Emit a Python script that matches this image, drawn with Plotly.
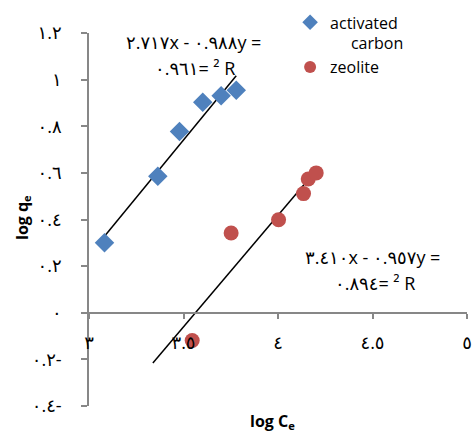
import plotly.graph_objects as go

# ---- data ----
ac_x = [3.082, 3.364, 3.479, 3.602, 3.699, 3.779]
ac_y = [0.300, 0.585, 0.778, 0.903, 0.931, 0.954]
zeo_x = [3.546, 3.752, 4.003, 4.135, 4.160, 4.202]
zeo_y = [-0.119, 0.342, 0.399, 0.511, 0.574, 0.600]

# trendline coefficients as printed on the chart, and the span drawn
ac_slope, ac_icpt = 0.988, -2.717
zeo_slope, zeo_icpt = 0.957, -3.410
ac_trend_x = [3.082, 3.779]
zeo_trend_x = [3.338, 4.202]

x_tickvals = [3, 3.5, 4, 4.5, 5]
x_ticktext = ["٣", "٣.٥", "٤", "٤.٥", "٥"]
y_tickvals = [-0.4, -0.2, 0, 0.2, 0.4, 0.6, 0.8, 1.0, 1.2]
y_ticktext = ["٠.٤-", "٠.٢-", "٠", "٠.٢", "٠.٤", "٠.٦", "٠.٨", "١", "١.٢"]

eq1 = ["٢.٧١٧x - ٠.٩٨٨y =", "٠.٩٦١= ² R"]
eq2 = ["٣.٤١٠x - ٠.٩٥٧y =", "٠.٨٩٤= ² R"]

FONT = "Open Sans, DejaVu Sans, sans-serif"
BLUE = "#4F81BD"
RED = "#C0504D"
AXIS = "#878787"

fig = go.Figure()
fig.add_trace(go.Scatter(
    x=ac_trend_x, y=[ac_slope * v + ac_icpt for v in ac_trend_x],
    mode="lines", line=dict(color="black", width=1.5), showlegend=False, hoverinfo="skip"))
fig.add_trace(go.Scatter(
    x=zeo_trend_x, y=[zeo_slope * v + zeo_icpt for v in zeo_trend_x],
    mode="lines", line=dict(color="black", width=1.5), showlegend=False, hoverinfo="skip"))
fig.add_trace(go.Scatter(
    x=ac_x, y=ac_y, mode="markers", name="activated<br>     carbon",
    marker=dict(symbol="diamond", size=15, color=BLUE)))
fig.add_trace(go.Scatter(
    x=zeo_x, y=zeo_y, mode="markers", name="zeolite",
    marker=dict(symbol="circle", size=15, color=RED)))

fig.update_layout(
    width=472, height=434,
    margin=dict(l=89, r=5, t=33, b=28, autoexpand=False),
    paper_bgcolor="white", plot_bgcolor="white",
    font=dict(family=FONT, size=15, color="black"),
    legend=dict(x=0.532, y=1.074, xanchor="left", yanchor="top",
                font=dict(size=16), valign="top", tracegroupgap=0,
                bgcolor="rgba(0,0,0,0)", itemsizing="constant"),
    xaxis=dict(range=[3, 5], anchor="free", position=0.25,
               tickvals=x_tickvals, ticktext=x_ticktext,
               showline=True, linecolor=AXIS, linewidth=1.5,
               ticks="outside", ticklen=5, tickcolor=AXIS, tickwidth=1.5,
               ticklabelstandoff=9, showgrid=False, zeroline=False,
               tickfont=dict(size=18)),
    yaxis=dict(range=[-0.4, 1.2], tickvals=y_tickvals, ticktext=y_ticktext,
               showline=True, linecolor=AXIS, linewidth=1.5,
               ticks="outside", ticklen=6, tickcolor=AXIS, tickwidth=1.5,
               ticklabelstandoff=16, showgrid=False, zeroline=False,
               tickfont=dict(size=18)),
)

ann = []
ann.append(dict(text="<b>log q<sub>e</sub></b>", x=22, y=218, textangle=-90, size=16))
ann.append(dict(text="<b>log C<sub>e</sub></b>", x=272, y=421, textangle=0, size=16))
ann.append(dict(text=eq1[0], x=193, y=42, textangle=0, size=18))
ann.append(dict(text=eq1[1], x=195, y=68, textangle=0, size=18))
ann.append(dict(text=eq2[0], x=372, y=257, textangle=0, size=18))
ann.append(dict(text=eq2[1], x=375, y=283, textangle=0, size=18))
for a in ann:
    fig.add_annotation(
        text=a["text"], xref="paper", yref="paper",
        x=(a["x"] - 89) / 378, y=(434 - 28 - a["y"]) / 373,
        xanchor="center", yanchor="middle", showarrow=False,
        textangle=a["textangle"], font=dict(size=a["size"], color="black", family=FONT))

fig.write_html("out.html")
